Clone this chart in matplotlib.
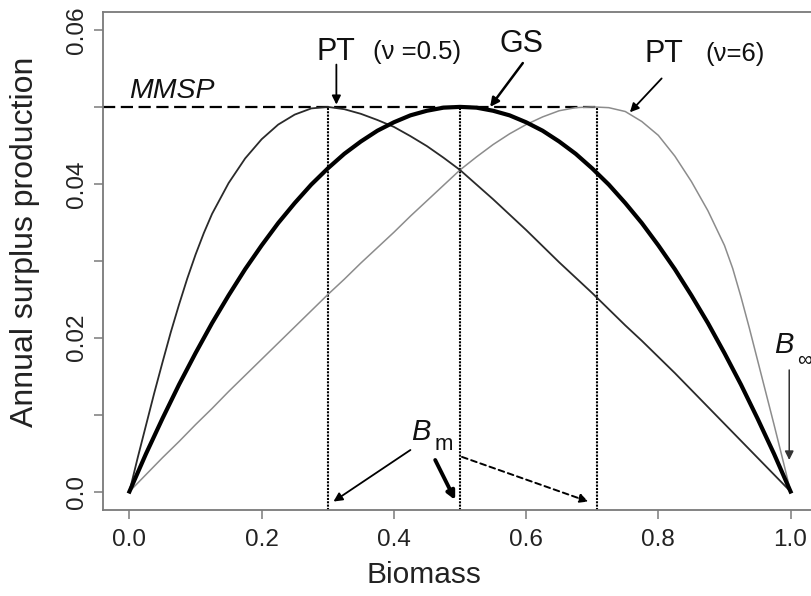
import matplotlib
matplotlib.use('Agg')
import matplotlib.pyplot as plt

# ---- data ----
biomass = [0.0, 0.025, 0.05, 0.075, 0.1, 0.125, 0.15, 0.175, 0.2, 0.225, 0.25, 0.275,
           0.3, 0.325, 0.35, 0.375, 0.4, 0.425, 0.45, 0.475, 0.5, 0.525, 0.55, 0.575,
           0.6, 0.625, 0.65, 0.675, 0.7, 0.725, 0.75, 0.775, 0.8, 0.825, 0.85, 0.875,
           0.9, 0.925, 0.95, 0.975, 1.0]

# Graham-Schaefer (GS)
gs = [0.0, 0.0049, 0.0095, 0.0139, 0.018, 0.0219, 0.0255, 0.0289, 0.032, 0.0349, 0.0375, 0.0399,
      0.042, 0.0439, 0.0455, 0.0469, 0.048, 0.0489, 0.0495, 0.0499, 0.05, 0.0499, 0.0495, 0.0489,
      0.048, 0.0469, 0.0455, 0.0439, 0.042, 0.0399, 0.0375, 0.0349, 0.032, 0.0289, 0.0255, 0.0219,
      0.018, 0.0139, 0.0095, 0.0049, 0.0]

# Pella-Tomlinson, nu = 0.5
biomass_nu05 = [0.0, 0.0125, 0.025, 0.0375, 0.05, 0.0625, 0.075, 0.0875, 0.1, 0.1125, 0.125, 0.15,
                0.175, 0.2, 0.225, 0.25, 0.275, 0.3, 0.325, 0.35, 0.375, 0.4, 0.425, 0.45, 0.475,
                0.5, 0.525, 0.55, 0.575, 0.6, 0.625, 0.65, 0.675, 0.7, 0.725, 0.75, 0.775, 0.8,
                0.825, 0.85, 0.875, 0.9, 0.925, 0.95, 0.975, 1.0]
pt_nu05 = [0.0, 0.0044, 0.0086, 0.0128, 0.0168, 0.0207, 0.0243, 0.0277, 0.0308, 0.0336, 0.0361, 0.0401,
           0.0433, 0.0458, 0.0477, 0.0490, 0.0498, 0.0500, 0.0497, 0.0491, 0.0483, 0.0474, 0.0462,
           0.0449, 0.0434, 0.0418, 0.0399, 0.0380, 0.0360, 0.0340, 0.0319, 0.0298, 0.0278, 0.0258,
           0.0237, 0.0216, 0.0196, 0.0175, 0.0154, 0.0132, 0.0110, 0.0088, 0.0066, 0.0044, 0.0022, 0.0]

# Pella-Tomlinson, nu = 6
biomass_nu6 = [0.0, 0.025, 0.05, 0.075, 0.1, 0.125, 0.15, 0.175, 0.2, 0.225, 0.25, 0.275,
               0.3, 0.325, 0.35, 0.375, 0.4, 0.425, 0.45, 0.475, 0.5, 0.525, 0.55, 0.575,
               0.6, 0.625, 0.65, 0.675, 0.7, 0.725, 0.75, 0.775, 0.8, 0.825, 0.85, 0.875,
               0.9, 0.9125, 0.925, 0.9375, 0.95, 0.9625, 0.975, 0.9875, 1.0]
pt_nu6 = [0.0, 0.0022, 0.0044, 0.0065, 0.0087, 0.0108, 0.0130, 0.0151, 0.0172, 0.0193, 0.0214, 0.0235,
          0.0256, 0.0276, 0.0297, 0.0317, 0.0337, 0.0358, 0.0378, 0.0398, 0.0418, 0.0435, 0.0451, 0.0465,
          0.0477, 0.0487, 0.0495, 0.0499, 0.0500, 0.0499, 0.0494, 0.0481, 0.0463, 0.0436, 0.0403, 0.0365,
          0.0320, 0.0290, 0.0253, 0.0213, 0.0171, 0.0129, 0.0087, 0.0044, 0.0]

mmsp = 0.05
bm_positions = [0.3, 0.5, 0.707]
xticks = [0.0, 0.2, 0.4, 0.6, 0.8, 1.0]
xtick_labels = ['0.0', '0.2', '0.4', '0.6', '0.8', '1.0']
yticks = [0.0, 0.01, 0.02, 0.03, 0.04, 0.05, 0.06]
ytick_labels = ['0.0', '', '0.02', '', '0.04', '', '0.06']

plt.rcParams['font.family'] = ['Liberation Sans', 'DejaVu Sans']

fig = plt.figure(figsize=(8.11, 5.96), dpi=100)
ax = fig.add_axes([103 / 811, 1 - 510 / 596, 714 / 811, (510 - 11.5) / 596])
ax.set_xlim(-0.04, 1.04)
ax.set_ylim(-0.0024, 0.0624)

for s in ax.spines.values():
    s.set_color('#7a7a7a')
    s.set_linewidth(1.3)

ax.set_xticks(xticks)
ax.set_xticklabels(xtick_labels)
ax.set_yticks(yticks)
ax.set_yticklabels(ytick_labels, rotation=90, va='center')
ax.tick_params(axis='both', direction='out', length=6.5, width=1.1, color='#7a7a7a',
               labelsize=17.5, labelcolor='#222222')
ax.tick_params(axis='x', pad=7.5)
ax.tick_params(axis='y', pad=4.5)

ax.set_xlabel('Biomass', fontsize=21.5, color='#222222', va='top')
ax.xaxis.set_label_coords((424 - 103) / 714, (510 - 561) / 498.5)
ax.set_ylabel('Annual surplus production', fontsize=23, color='#222222')
ax.yaxis.set_label_coords((40 - 103) / 714, (510 - 242) / 498.5)

# curves
ax.plot(biomass_nu6, pt_nu6, color='#8c8c8c', lw=1.1, zorder=3)
ax.plot(biomass_nu05, pt_nu05, color='#2a2a2a', lw=1.3, zorder=3)
ax.plot(biomass, gs, color='black', lw=3.0, zorder=4)

# MMSP dashed line
ax.plot([-0.04, bm_positions[2]], [mmsp, mmsp], color='black', lw=1.6,
        linestyle=(0, (5.5, 2.5)), zorder=2, clip_on=False)

# vertical dotted lines at Bm
for b in bm_positions:
    ax.plot([b, b], [-0.0024, mmsp], color='black', lw=1.5, linestyle=(0, (1, 0.6)), zorder=2)

txt_kw = dict(color='#111111', ha='center', va='center')
ax.text(0.0, 0.0521, 'MMSP', fontsize=20.5, style='italic', ha='left', va='center', color='#111111')
ax.text(0.313, 0.0571, 'PT', fontsize=22, **txt_kw)
ax.text(0.435, 0.0571, '(\u03bd =0.5)', fontsize=18.5, **txt_kw)
ax.text(0.593, 0.0582, 'GS', fontsize=22, **txt_kw)
ax.text(0.808, 0.0569, 'PT', fontsize=22, **txt_kw)
ax.text(0.916, 0.0569, '(\u03bd=6)', fontsize=18.5, **txt_kw)

arrow_kw = dict(arrowstyle='-|>', color='black', lw=1.3, shrinkA=0, shrinkB=0, mutation_scale=13)
ax.annotate('', xy=(0.313, 0.0503), xytext=(0.313, 0.0555), arrowprops=arrow_kw)
ax.annotate('', xy=(0.5455, 0.0500), xytext=(0.595, 0.0557), arrowprops=dict(arrow_kw, lw=1.8))
ax.annotate('', xy=(0.757, 0.0493), xytext=(0.805, 0.0537), arrowprops=arrow_kw)

# B infinity
ax.text(0.975, 0.0190, 'B', fontsize=21, style='italic', ha='left', va='center', color='#111111',
        clip_on=False)
ax.text(1.01, 0.0170, '\u221e', fontsize=15, ha='left', va='center', color='#111111', clip_on=False)
ax.annotate('', xy=(0.998, 0.0041), xytext=(0.998, 0.0158),
            arrowprops=dict(arrow_kw, color='#333333', lw=1.1), annotation_clip=False)

# B_m
ax.text(0.441, 0.0077, 'B', fontsize=21, style='italic', ha='center', va='center', color='#111111')
ax.text(0.476, 0.0061, 'm', fontsize=16, ha='center', va='center', color='#111111')
ax.annotate('', xy=(0.3086, -0.0013), xytext=(0.425, 0.0054), arrowprops=arrow_kw,
            annotation_clip=False)
ax.annotate('', xy=(0.4927, -0.0011), xytext=(0.4625, 0.0041),
            arrowprops=dict(arrow_kw, lw=2.8, mutation_scale=12), annotation_clip=False)
ax.annotate('', xy=(0.694, -0.0013), xytext=(0.503, 0.0045),
            arrowprops=dict(arrow_kw, linestyle=(0, (3, 2)), lw=1.4), annotation_clip=False)

fig.savefig('out.png', dpi=100)
